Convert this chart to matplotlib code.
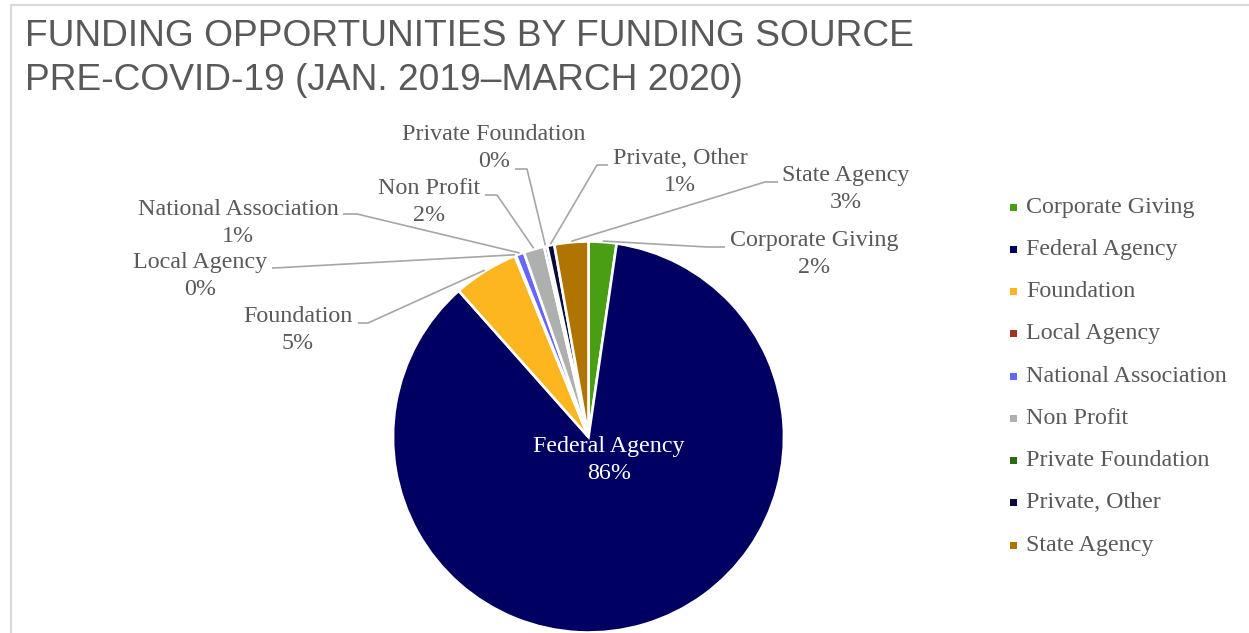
import matplotlib
matplotlib.use("Agg")
import matplotlib.pyplot as plt
from matplotlib.patches import Rectangle
import numpy as np

# ---- data ----
categories = ["Corporate Giving", "Federal Agency", "Foundation", "Local Agency",
              "National Association", "Non Profit", "Private Foundation",
              "Private, Other", "State Agency"]
shares = [2.3, 86.15, 5.4, 0.1, 0.7, 1.7, 0.25, 0.6, 2.8]
colors = ["#4a9e13", "#000062", "#fdb520", "#9e3322", "#6666ff",
          "#aeb0ae", "#2d6a14", "#0b0b3b", "#b07400"]
title_lines = ["FUNDING OPPORTUNITIES BY FUNDING SOURCE",
               "PRE-COVID-19 (JAN. 2019\u2013MARCH 2020)"]

W, H = 1249, 633
fig = plt.figure(figsize=(W / 100, H / 100), dpi=100)
ax = fig.add_axes([0, 0, 1, 1])

def py(y):  # pixel y (top-down) -> data y
    return H - y

cx, cy, R = 588.5, py(437), 195.5
wedges, _ = ax.pie(shares, colors=colors, startangle=90, counterclock=False,
                   center=(cx, cy), radius=R,
                   wedgeprops=dict(edgecolor="white", linewidth=1.9))
ax.set_xlim(0, W)
ax.set_ylim(0, H)
ax.set_aspect("equal")
ax.axis("off")

total = sum(shares)
serif = ["Liberation Serif", "DejaVu Serif"]
fs = 17.3
txt_col = "#595959"
line_col = "#a6a6a6"
lsp = 1.32

# label layout: text centre (px), line start (px), elbow (px)
layout = {
    "Corporate Giving": ((814, 254), (725, 247), (707, 247)),
    "Foundation": ((298, 330), (358, 323), (368, 323)),
    "Local Agency": ((200, 276), (272, 268), (274, 268)),
    "National Association": ((238, 223), (343, 214), (357, 214)),
    "Non Profit": ((429, 202), (485, 195), (497, 195)),
    "Private Foundation": ((494, 148), (515, 169), (527, 169)),
    "Private, Other": ((680, 172), (608, 165), (597, 165)),
    "State Agency": ((846, 189), (778, 182), (765, 182)),
}

for w, name, val in zip(wedges, categories, shares):
    label = f"{name}\n{val / total * 100:.0f}%"
    if name == "Federal Agency":
        ax.text(609, py(460), label, ha="center", va="center", color="white",
                fontsize=fs, family=serif, linespacing=lsp)
        continue
    (tx, ty), (sx, sy), (ex, ey) = layout[name]
    mid = np.deg2rad((w.theta1 + w.theta2) / 2)
    px_, py_ = cx + R * 1.005 * np.cos(mid), cy + R * 1.005 * np.sin(mid)
    ax.plot([sx, ex, px_], [py(sy), py(ey), py_], color=line_col, lw=1.2,
            solid_capstyle="butt", zorder=1)
    ax.text(tx, py(ty), label, ha="center", va="center", color=txt_col,
            fontsize=fs, family=serif, linespacing=lsp)

# legend (manual)
for i, (name, col) in enumerate(zip(categories, colors)):
    yy = 207 + i * 42.25
    ax.add_patch(Rectangle((1010, py(yy) - 3.5), 7, 7, facecolor=col,
                           edgecolor="none"))
    ax.text(1026, py(yy), name, ha="left", va="center", color=txt_col,
            fontsize=fs, family=serif)

# title
tfam = ["Liberation Sans", "DejaVu Sans"]
ax.text(25, py(46), title_lines[0], ha="left", va="baseline", color=txt_col,
        fontsize=26.7, family=tfam)
ax.text(25, py(90), title_lines[1], ha="left", va="baseline", color=txt_col,
        fontsize=26.7, family=tfam)

# chart border
fig.patches.append(Rectangle((11 / W, -0.1), 1.2, (H - 5) / H + 0.1,
                             transform=fig.transFigure, fill=False,
                             edgecolor="#d9d9d9", linewidth=1.6))

fig.savefig("out.png", dpi=100)
